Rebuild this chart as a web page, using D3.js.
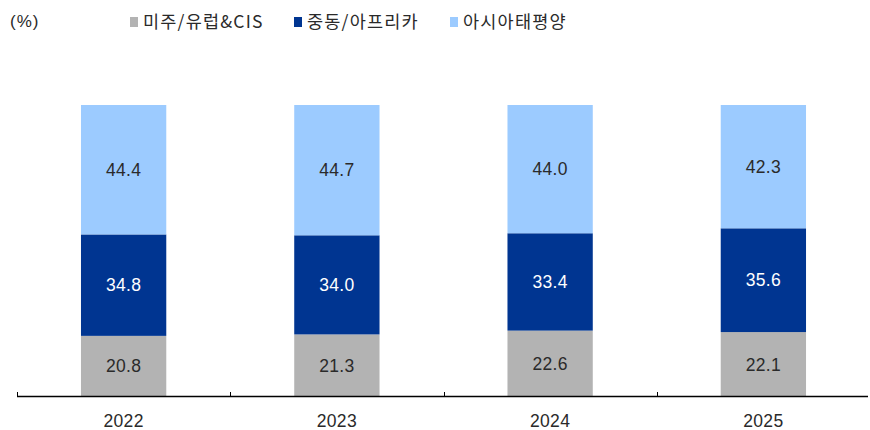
<!DOCTYPE html>
<html>
<head>
<meta charset="utf-8">
<script src="https://cdn.jsdelivr.net/npm/d3@7"></script>
<style>
  body { margin: 0; background: #fff; }
  text { font-family: "Liberation Sans", Arial, sans-serif; }
  .ko { font-family: "Noto Sans CJK KR", "Noto Sans", sans-serif; }
</style>
</head>
<body>
<div class="chart"></div>
<script>
var years = ["2022", "2023", "2024", "2025"];
var seriesNames = ["미주/유럽&CIS", "중동/아프리카", "아시아태평양"];
var americasEurope = [20.8, 21.3, 22.6, 22.1];
var middleEastAfrica = [34.8, 34.0, 33.4, 35.6];
var asiaPacific = [44.4, 44.7, 44.0, 42.3];
var colors = ["#b3b3b3", "#003591", "#9ccbff"];

var svgWidth = 870;
var svgHeight = 430;

var svg = d3.select(".chart")
  .append("svg")
  .attr("width", svgWidth)
  .attr("height", svgHeight);

// build rows for the stack
var rows = years.map(function(y, i) {
  return { year: y, s0: americasEurope[i], s1: middleEastAfrica[i], s2: asiaPacific[i] };
});
var stacked = d3.stack().keys(["s0", "s1", "s2"])(rows);

var xScale = d3.scaleBand()
  .domain(years)
  .range([17, 870])
  .paddingInner(0.6)
  .paddingOuter(0.3);

var yScale = d3.scaleLinear()
  .domain([0, 100])
  .range([396.5, 105]);

// bars
var layers = svg.selectAll("g.layer")
  .data(stacked)
  .enter()
  .append("g")
  .attr("class", "layer")
  .attr("fill", (d, i) => colors[i]);

layers.selectAll("rect")
  .data(d => d)
  .enter()
  .append("rect")
  .attr("x", d => xScale(d.data.year))
  .attr("y", d => yScale(d[1]))
  .attr("width", xScale.bandwidth())
  .attr("height", d => yScale(d[0]) - yScale(d[1]));

// value labels
layers.each(function(layer, li) {
  d3.select(this).selectAll("text")
    .data(layer)
    .enter()
    .append("text")
    .attr("x", d => xScale(d.data.year) + xScale.bandwidth() / 2)
    .attr("y", d => (yScale(d[0]) + yScale(d[1])) / 2)
    .attr("dy", "0.36em")
    .attr("text-anchor", "middle")
    .attr("font-size", 17.5)
    .attr("letter-spacing", 0.3)
    .attr("fill", li === 1 ? "#ffffff" : "#2a2a2a")
    .text(d => (d[1] - d[0]).toFixed(1));
});

// x axis line with ticks between categories
var step = xScale.step();
var axisG = svg.append("g");
axisG.append("line")
  .attr("x1", 17).attr("x2", 868)
  .attr("y1", 396.5).attr("y2", 396.5)
  .attr("stroke", "#000")
  .attr("stroke-width", 1.5);

var tickPos = d3.range(0, years.length).map(i => 17 + i * step);
axisG.selectAll("line.tick")
  .data(tickPos)
  .enter()
  .append("line")
  .attr("class", "tick")
  .attr("x1", d => Math.round(d) + 0.5)
  .attr("x2", d => Math.round(d) + 0.5)
  .attr("y1", 392)
  .attr("y2", 397)
  .attr("stroke", "#000")
  .attr("stroke-width", 1);

axisG.selectAll("text")
  .data(years)
  .enter()
  .append("text")
  .attr("x", d => xScale(d) + xScale.bandwidth() / 2)
  .attr("y", 427)
  .attr("text-anchor", "middle")
  .attr("font-size", 17.5)
  .attr("letter-spacing", 0.3)
  .attr("fill", "#2a2a2a")
  .text(d => d);

// unit label
svg.append("text")
  .attr("x", 10)
  .attr("y", 27)
  .attr("font-size", 17)
  .attr("letter-spacing", 1)
  .attr("fill", "#2a2a2a")
  .text("(%)");

// legend
var legendX = [130, 294, 450];
var legend = svg.selectAll("g.legend")
  .data(seriesNames)
  .enter()
  .append("g")
  .attr("class", "legend")
  .attr("transform", (d, i) => `translate(${legendX[i]}, 0)`);

legend.append("rect")
  .attr("x", 0)
  .attr("y", 17)
  .attr("width", 8)
  .attr("height", 10)
  .attr("fill", (d, i) => colors[i]);

legend.append("text")
  .attr("class", "ko")
  .attr("x", 13)
  .attr("y", 28)
  .attr("font-size", 17.5)
  .attr("letter-spacing", 1.2)
  .attr("fill", "#2a2a2a")
  .text(d => d);
</script>
</body>
</html>
